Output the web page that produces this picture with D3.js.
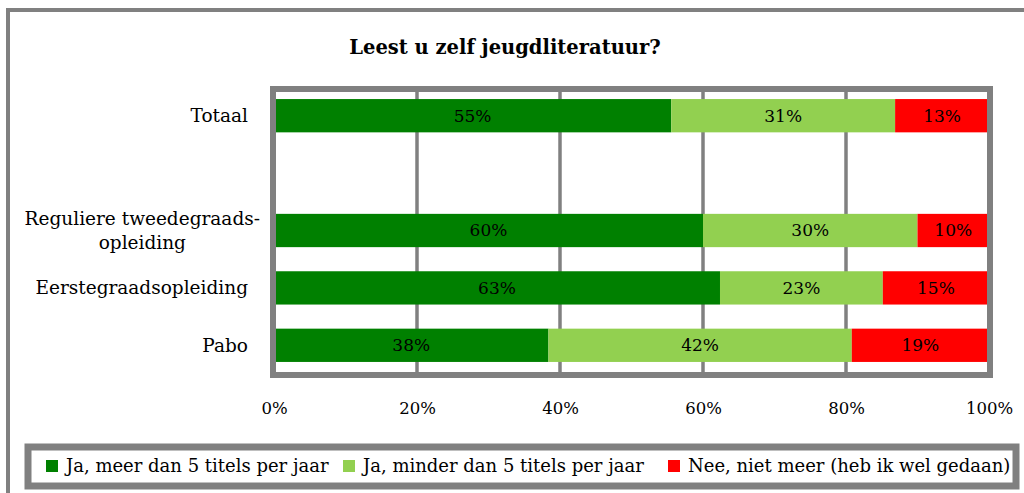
<!DOCTYPE html>
<html>
<head>
<meta charset="utf-8">
<script src="https://cdn.jsdelivr.net/npm/d3@7"></script>
<style>
  html, body { margin: 0; padding: 0; background: #fff; }
  svg { display: block; font-family: "DejaVu Serif", "Liberation Serif", serif; }
</style>
</head>
<body>
<svg id="chart" width="1024" height="493"></svg>
<script>
// categories (top to bottom); the empty one is the blank slot under Totaal
var categories = ["Totaal", "", "Reguliere tweedegraads-\nopleiding", "Eerstegraadsopleiding", "Pabo"];
var seriesNames = ["Ja, meer dan 5 titels per jaar", "Ja, minder dan 5 titels per jaar", "Nee, niet meer (heb ik wel gedaan)"];
var seriesColors = ["#008000", "#92d050", "#ff0000"];
// percentages per category, one array per series
var meerDan5 = [55, null, 60, 63, 38];
var minderDan5 = [31, null, 30, 23, 42];
var nietMeer = [13, null, 10, 15, 19];
var xTicks = [0, 0.2, 0.4, 0.6, 0.8, 1];

var gray = "#808080";
var svg = d3.select("#chart");

// outer frame (runs off the right and bottom of the picture)
svg.append("rect")
  .attr("x", 8).attr("y", 10)
  .attr("width", 1040).attr("height", 500)
  .attr("fill", "none").attr("stroke", gray).attr("stroke-width", 4);

svg.append("text")
  .attr("x", 505).attr("y", 54)
  .attr("text-anchor", "middle")
  .attr("font-size", "19.5px").attr("font-weight", "bold")
  .text("Leest u zelf jeugdliteratuur?");

var x = d3.scaleLinear().domain([0, 1]).range([274, 989]);
var y = d3.scaleBand().domain(categories).range([87, 374]).paddingInner(0.42).paddingOuter(0.21);

// gridlines behind the bars
svg.append("g").selectAll("line")
  .data(xTicks.slice(1, -1))
  .enter().append("line")
  .attr("x1", function(d){ return x(d); })
  .attr("x2", function(d){ return x(d); })
  .attr("y1", 89).attr("y2", 375)
  .attr("stroke", gray).attr("stroke-width", 3.5);

// 100% stacked: each row is normalised to its own total
var rows = categories.map(function(c, i){
  return {cat: c, vals: [meerDan5[i], minderDan5[i], nietMeer[i]]};
}).filter(function(r){ return r.vals[0] != null; });

var segs = [];
rows.forEach(function(r){
  var total = d3.sum(r.vals), acc = 0;
  r.vals.forEach(function(v, k){
    segs.push({cat: r.cat, k: k, v: v, x0: acc / total, x1: (acc + v) / total});
    acc += v;
  });
});

var barG = svg.append("g");
barG.selectAll("rect")
  .data(segs)
  .enter().append("rect")
  .attr("x", function(d){ return x(d.x0); })
  .attr("width", function(d){ return x(d.x1) - x(d.x0); })
  .attr("y", function(d){ return y(d.cat); })
  .attr("height", y.bandwidth())
  .attr("fill", function(d){ return seriesColors[d.k]; });

barG.selectAll("text")
  .data(segs)
  .enter().append("text")
  .attr("x", function(d){ return (x(d.x0) + x(d.x1)) / 2; })
  .attr("y", function(d){ return y(d.cat) + y.bandwidth() / 2; })
  .attr("dy", "0.35em")
  .attr("text-anchor", "middle")
  .attr("font-size", "17px")
  .attr("fill", "#000")
  .text(function(d){ return d.v + "%"; });

// plot area border on top
svg.append("rect")
  .attr("x", 273).attr("y", 89)
  .attr("width", 717).attr("height", 286)
  .attr("fill", "none").attr("stroke", gray).attr("stroke-width", 6);

// x axis labels
var xAxis = d3.axisBottom(x).tickValues(xTicks).tickFormat(d3.format(".0%")).tickSize(0).tickPadding(0);
var xg = svg.append("g").attr("transform", "translate(0,402)").call(xAxis);
xg.select(".domain").remove();
xg.selectAll("text")
  .attr("font-family", "DejaVu Serif, serif")
  .attr("font-size", "16.5px").attr("fill", "#000")
  .attr("dy", "0.35em").attr("y", 6);

// category labels: block right-aligned, lines centred within it
var catG = svg.append("g");
rows.forEach(function(r){
  var lines = r.cat.split("\n");
  var t = catG.append("text")
    .attr("font-size", "18.5px").attr("fill", "#000")
    .attr("text-anchor", "middle");
  var cy = y(r.cat) + y.bandwidth() / 2;
  lines.forEach(function(l, i){
    t.append("tspan")
      .attr("y", cy + (i - (lines.length - 1) / 2) * 24)
      .attr("dy", "0.35em")
      .text(l);
  });
  var w = 0;
  t.selectAll("tspan").each(function(){ w = Math.max(w, this.getComputedTextLength()); });
  var right = lines.length > 1 ? 260 : 248;
  t.selectAll("tspan").attr("x", right - w / 2);
});

// legend
svg.append("rect")
  .attr("x", 28).attr("y", 447)
  .attr("width", 988).attr("height", 39)
  .attr("fill", "#fff").attr("stroke", gray).attr("stroke-width", 7);

var legX = [46, 343, 668];
var lg = svg.append("g").selectAll("g")
  .data(seriesNames)
  .enter().append("g")
  .attr("transform", function(d, i){ return "translate(" + legX[i] + ",466)"; });
lg.append("rect")
  .attr("x", 0).attr("y", -6)
  .attr("width", 12).attr("height", 12)
  .attr("fill", function(d, i){ return seriesColors[i]; });
lg.append("text")
  .attr("x", 20).attr("dy", "0.35em")
  .attr("font-size", "18px").attr("fill", "#000")
  .text(function(d){ return d; });
</script>
</body>
</html>
